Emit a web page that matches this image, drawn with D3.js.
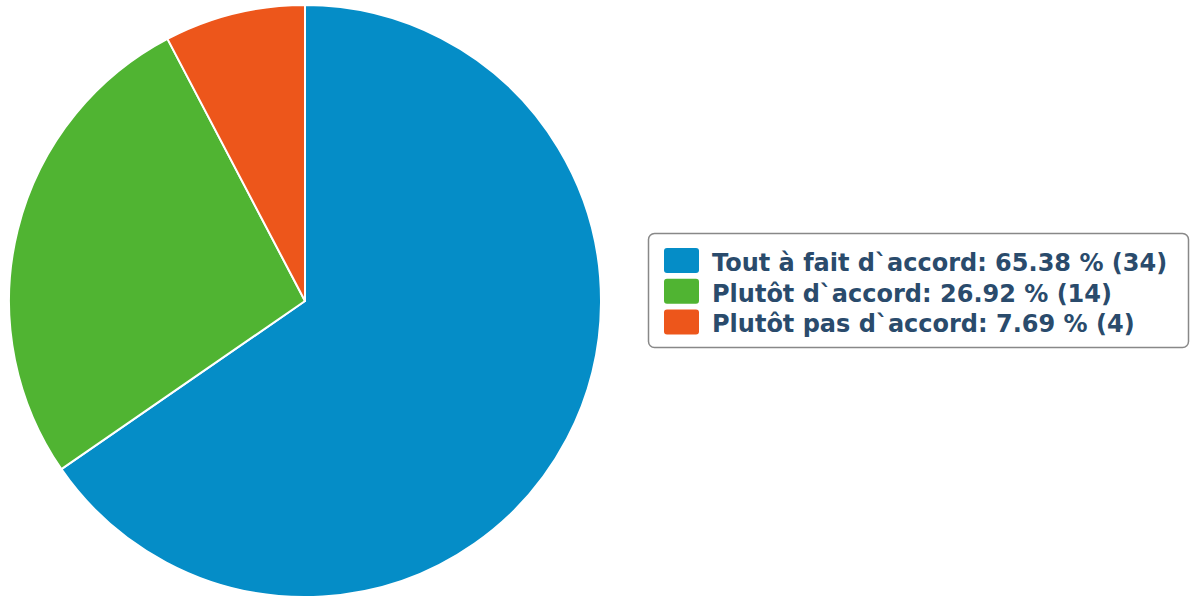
<!DOCTYPE html>
<html>
<head>
<meta charset="utf-8">
<script src="https://cdn.jsdelivr.net/npm/d3@7"></script>
<style>
body { margin: 0; background: #fff; }
</style>
</head>
<body>
<script>
var w = 1191;
var h = 599;

var labels = ["Tout à fait d`accord", "Plutôt d`accord", "Plutôt pas d`accord"];
var counts = [34, 14, 4];
var percents = ["65.38", "26.92", "7.69"];
var colors = ["#058DC7", "#50B432", "#ED561B"];

var svg = d3.select("body").append("svg")
            .attr("width", w)
            .attr("height", h);

// pie
var cx = 305, cy = 301, r = 296;
var pie = d3.pie().sort(null).value(function(d){ return d; });
var arc = d3.arc().innerRadius(0).outerRadius(r);

svg.append("g")
   .attr("transform", "translate(" + cx + "," + cy + ")")
   .selectAll("path")
   .data(pie(counts))
   .enter()
   .append("path")
   .attr("d", arc)
   .attr("fill", function(d, i){ return colors[i]; })
   .attr("stroke", "#fff")
   .attr("stroke-width", 2)
   .attr("stroke-linejoin", "round");

// legend
var lx = 648, ly = 233, lw = 540, lh = 114, rowH = 30.7;
var legend = svg.append("g");

legend.append("rect")
   .attr("x", lx + 0.5).attr("y", ly + 0.5)
   .attr("width", lw).attr("height", lh)
   .attr("rx", 6)
   .attr("fill", "#fff")
   .attr("stroke", "#888")
   .attr("stroke-width", 1.5);

var items = legend.selectAll("g.item")
   .data(labels)
   .enter()
   .append("g")
   .attr("transform", function(d, i){ return "translate(0," + (i * rowH) + ")"; });

items.append("rect")
   .attr("x", 664).attr("y", 248)
   .attr("width", 35).attr("height", 25)
   .attr("rx", 3)
   .attr("fill", function(d, i){ return colors[i]; });

items.append("text")
   .attr("x", 712).attr("y", 271)
   .attr("font-family", "DejaVu Sans")
   .attr("font-weight", "bold")
   .attr("font-size", "24px")
   .attr("fill", "#2a4b6c")
   .text(function(d, i){ return d + ": " + percents[i] + " % (" + counts[i] + ")"; });
</script>
</body>
</html>
